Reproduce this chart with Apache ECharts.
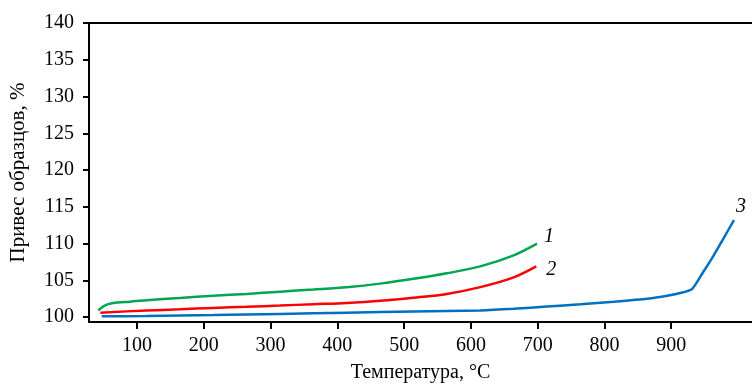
<!DOCTYPE html>
<html>
<head>
    <meta charset="utf-8">
    <title>Привес образцов</title>
    <script src="https://cdn.jsdelivr.net/npm/echarts@6/dist/echarts.min.js"></script>
    <style>
        html, body { margin: 0; padding: 0; background: #fff; }
    </style>
</head>
<body>
<div id="main" style="width: 752px;height:388px;"></div>
<script type="text/javascript">
// temperature (°C), weight gain (%)
var curve1 = [[42, 100.9], [50, 101.5], [64, 101.9], [90, 102.1], [114, 102.3], [164, 102.6], [214, 102.9],
    [264, 103.15], [314, 103.45], [364, 103.75], [414, 104.07], [464, 104.55], [514, 105.2], [564, 105.95],
    [614, 106.9], [664, 108.4], [699, 110.0]];
var curve2 = [[45, 100.6], [114, 100.9], [164, 101.05], [214, 101.25], [264, 101.4], [314, 101.57],
    [364, 101.75], [414, 101.93], [464, 102.22], [514, 102.64], [564, 103.15], [614, 104.07], [664, 105.4],
    [698, 106.9]];
var curve3 = [[47, 100.1], [114, 100.15], [214, 100.27], [314, 100.42], [414, 100.6], [514, 100.75],
    [614, 100.9], [664, 101.12], [714, 101.43], [764, 101.75], [814, 102.1], [864, 102.5], [894, 102.9],
    [915, 103.3], [931, 103.8], [947, 106.0], [963, 108.3], [979, 110.8], [994, 113.2]];
var curveNames = ['1', '2', '3'];
var xTicks = [100, 200, 300, 400, 500, 600, 700, 800, 900];
var yTicks = [100, 105, 110, 115, 120, 125, 130, 135, 140];

var font = 'Liberation Serif';
var myChart = echarts.init(document.getElementById('main'));

function line(name, data, color, smooth, offset) {
    return {
        name: name,
        type: 'line',
        data: data,
        smooth: smooth,
        showSymbol: false,
        lineStyle: { color: color, width: 2.5 },
        endLabel: {
            show: true,
            formatter: name,
            fontFamily: font,
            fontStyle: 'italic',
            fontSize: 20,
            color: '#000',
            offset: offset
        },
        z: 3
    };
}

myChart.setOption({
    animation: false,
    grid: { left: 89, top: 23, right: 0, bottom: 61 },
    xAxis: [{
        type: 'value',
        min: 28,
        max: 1021,
        name: 'Температура, °С',
        nameLocation: 'middle',
        nameGap: 41,
        nameTextStyle: { fontFamily: font, fontSize: 20, color: '#000' },
        axisLine: { show: true, onZero: false, lineStyle: { color: '#000', width: 2 } },
        axisTick: { show: true, length: 7, customValues: xTicks, lineStyle: { color: '#000', width: 2 } },
        axisLabel: { customValues: xTicks, margin: 14, fontFamily: font, fontSize: 20, color: '#000' },
        splitLine: { show: false }
    }, {
        type: 'value',
        position: 'top',
        min: 28,
        max: 1021,
        axisLine: { show: true, onZero: false, lineStyle: { color: '#000', width: 2 } },
        axisTick: { show: false },
        axisLabel: { show: false },
        splitLine: { show: false }
    }],
    yAxis: {
        type: 'value',
        min: 99.33,
        max: 140,
        name: 'Привес образцов, %',
        nameLocation: 'middle',
        nameGap: 60,
        nameTextStyle: { fontFamily: font, fontSize: 21, color: '#000' },
        axisLine: { show: true, onZero: false, lineStyle: { color: '#000', width: 2 } },
        axisTick: { show: true, length: 6, customValues: yTicks, lineStyle: { color: '#000', width: 2 } },
        axisLabel: { customValues: yTicks, margin: 15, fontFamily: font, fontSize: 20, color: '#000' },
        splitLine: { show: false }
    },
    series: [
        line(curveNames[0], curve1, '#00a650', 0.3, [-1, -7]),
        line(curveNames[1], curve2, '#ff0000', 0.3, [2, 3]),
        line(curveNames[2], curve3, '#0070c0', 0.2, [-6, -13])
    ]
});
</script>
</body>
</html>
